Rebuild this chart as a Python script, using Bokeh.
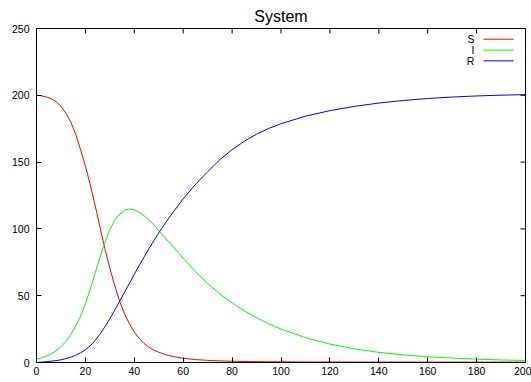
import math
from bokeh.plotting import figure
from bokeh.models import Range1d, FixedTicker, Label, Arrow
from bokeh.embed import file_html
from bokeh.resources import INLINE

# ---- data ----
t = [0, 2, 4, 6, 8, 10, 12, 14, 16, 18, 20, 22, 24, 26, 28, 30, 32, 34, 36, 38,
     40, 42, 44, 46, 48, 50, 52, 54, 56, 58, 60, 65, 70, 75, 80, 85, 90, 95, 100,
     110, 120, 130, 140, 150, 160, 170, 180, 190, 200]

S = [200.0, 199.6, 198.8, 197.4, 195.2, 191.8, 186.8, 180.0, 171.0, 159.5,
     147.0, 133.0, 117.5, 101.0, 85.0, 70.5, 57.5, 46.0, 36.5, 29.0,
     22.8, 18.0, 14.2, 11.4, 9.3, 7.7, 6.4, 5.3, 4.5, 3.8,
     3.2, 2.2, 1.6, 1.2, 0.95, 0.78, 0.65, 0.56, 0.5,
     0.42, 0.37, 0.34, 0.32, 0.31, 0.3, 0.3, 0.29, 0.29, 0.29]

I = [2.5, 3.4, 4.7, 6.4, 8.7, 11.8, 15.8, 21.0, 27.3, 34.5,
     44.0, 55.0, 67.0, 79.0, 90.0, 99.5, 106.5, 111.0, 114.0, 115.0,
     114.2, 112.4, 109.8, 106.6, 102.9, 98.6, 94.6, 90.5, 86.4, 82.3,
     78.0, 68.0, 59.2, 51.3, 44.6, 38.7, 33.5, 29.0, 25.0,
     18.6, 13.8, 10.2, 7.6, 5.7, 4.3, 3.3, 2.5, 1.9, 1.5]

R = [0.0, 0.3, 0.6, 1.0, 1.4, 2.0, 2.9, 4.0, 5.4, 7.2,
     9.5, 12.6, 16.5, 21.3, 26.8, 32.8, 39.2, 45.8, 52.6, 59.2,
     66.0, 72.6, 79.0, 85.2, 91.2, 97.0, 102.5, 107.8, 112.8, 117.6,
     122.5, 133.3, 142.8, 151.8, 159.3, 165.6, 170.9, 175.2, 178.7,
     184.4, 188.5, 191.7, 194.2, 196.1, 197.6, 198.7, 199.5, 200.1, 200.5]

series_names = ["S", "I", "R"]
series_colors = ["#ff0000", "#00ff00", "#0000ff"]
x_ticks = [0, 20, 40, 60, 80, 100, 120, 140, 160, 180, 200]
y_ticks = [0, 50, 100, 150, 200, 250]
X_MIN, X_MAX = 0, 200
Y_MIN, Y_MAX = 0, 250

FONT = "Liberation Sans"

p = figure(width=531, height=382,
           x_range=Range1d(X_MIN, X_MAX), y_range=Range1d(Y_MIN, Y_MAX),
           output_backend="svg", toolbar_location=None,
           min_border_left=36, min_border_right=6,
           min_border_top=28, min_border_bottom=20)

p.background_fill_color = "white"
p.border_fill_color = "white"
p.outline_line_color = "black"
p.outline_line_width = 1
p.xgrid.visible = False
p.ygrid.visible = False

p.title.text = "System"
p.title.align = "center"
p.title.text_font = FONT
p.title.text_font_size = "16px"
p.title.text_font_style = "normal"
p.title.text_color = "black"
p.title.standoff = 8

for ax, ticks, standoff in [(p.xaxis[0], x_ticks, 4), (p.yaxis[0], y_ticks, 7)]:
    ax.ticker = FixedTicker(ticks=ticks)
    ax.minor_tick_line_color = None
    ax.major_tick_in = 5
    ax.major_tick_out = 0
    ax.major_tick_line_color = "black"
    ax.axis_line_color = "black"
    ax.major_label_standoff = standoff
    ax.major_label_text_font = FONT
    ax.major_label_text_font_size = "10.5px"
    ax.major_label_text_color = "black"

# mirrored inward ticks on the top and right edges (gnuplot style)
p.ray(x=x_ticks, y=[Y_MAX] * len(x_ticks), length=5, length_units="screen",
      angle=-math.pi / 2, line_color="black", line_width=1)
p.ray(x=[X_MAX] * len(y_ticks), y=y_ticks, length=5, length_units="screen",
      angle=math.pi, line_color="black", line_width=1)

for vals, name, col in zip([S, I, R], series_names, series_colors):
    p.line(t, vals, line_color=col, line_width=1)

# gnuplot-style key: label on the left, sample line on the right
key_rows = [242.0, 233.8, 225.8]
for name, col, yy in zip(series_names, series_colors, key_rows):
    p.add_layout(Label(x=179.1, y=yy, text=name, text_align="right",
                       text_baseline="middle", text_font=FONT,
                       text_font_size="10.5px", text_color="black"))
    p.add_layout(Arrow(end=None, start=None, x_start=182.8, x_end=195.1,
                       y_start=yy, y_end=yy, line_color=col, line_width=1))

open("out.html", "w").write(file_html(p, INLINE))
